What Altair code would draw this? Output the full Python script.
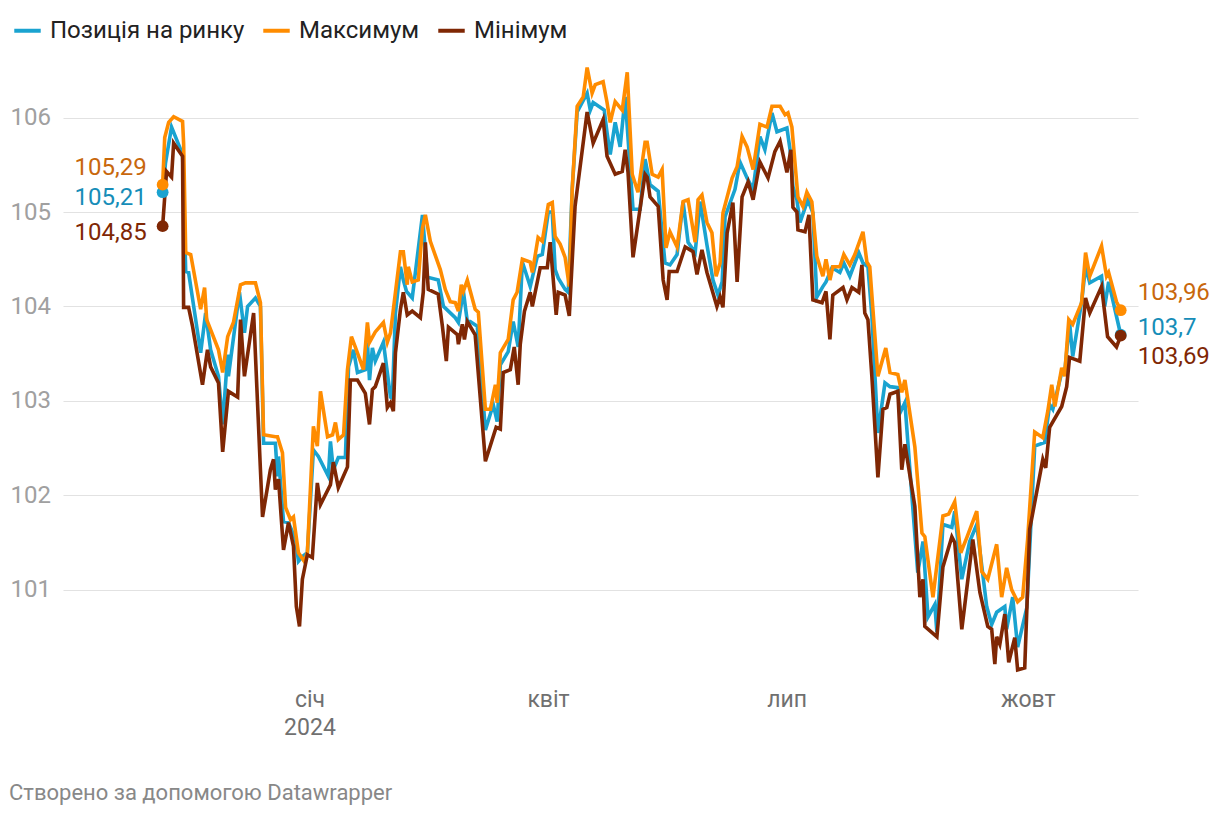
import altair as alt
import pandas as pd

SERIES = ["Позиція на ринку", "Максимум", "Мінімум"]
LINE_COLORS = ["#1aa3d0", "#ff8c00", "#7f2704"]
LABEL_COLORS = ["#168db8", "#c8670c", "#7f2704"]
Y_TICKS = [101, 102, 103, 104, 105, 106]

# day offsets from 2024-01-01 and values
pos_days = [-56, -54.9, -52.6, -48.4, -47.2, -46.1, -41.5, -39.6, -37.7, -34.7, -33.1, -31.2, -30.9, -26.7, -24.8,
            -23.6, -20.6, -18.7, -17.5, -13.0, -12.2, -11.8, -9.9, -8.0, -5.3, -4.2, -2.7, -0.8, 1.5, 3.4, 7.2, 8.0,
            9.1, 11.0, 13.7, 14.9, 16.8, 18.3, 21.3, 22.1, 22.9, 24.0, 25.1, 28.2, 30.9, 31.6, 32.8, 34.7, 35.8, 37.0,
            39.2, 43.1, 45.0, 49.1, 51.1, 53.0, 55.6, 56.8, 58.7, 60.2, 61.3, 64.0, 67.1, 70.1, 71.6, 72.8, 75.8, 77.7,
            79.6, 81.2, 84.2, 86.9, 88.8, 91.1, 92.6, 93.7, 94.9, 97.5, 98.7, 100.2, 102.1, 105.9, 107.1, 108.2, 112.4,
            113.5, 114.7, 116.6, 118.5, 120.4, 123.4, 126.1, 128.0, 129.9, 133.0, 135.6, 137.5, 140.2, 142.5, 144.4,
            147.1, 149.0, 151.6, 153.9, 155.8, 157.4, 158.5, 162.3, 164.2, 166.9, 169.2, 171.8, 173.7, 176.4, 178.3,
            182.1, 183.3, 184.4, 185.9, 187.1, 190.1, 192.0, 193.5, 195.8, 197.0, 199.3, 202.3, 203.8, 206.1, 209.5,
            211.1, 213.0, 214.5, 216.8, 219.5, 221.4, 224.4, 225.2, 227.1, 229.0, 232.0, 234.0, 235.9, 238.5, 239.3,
            241.6, 245.0, 246.1, 248.8, 251.8, 254.5, 258.3, 260.2, 262.1, 265.2, 265.9, 268.2, 270.1, 273.6, 276.6,
            280.4, 282.3, 283.5, 286.9, 288.0, 289.9, 291.1, 294.5, 296.0, 297.6, 302.1, 303.3, 304.8, 309.4]
pos_vals = [105.21, 105.52, 105.90, 105.61, 104.37, 104.36, 103.51, 103.93, 103.54, 103.26, 102.75, 103.49, 103.26,
            104.15, 103.72, 104.00, 104.09, 104.00, 102.55, 102.55, 102.20, 102.41, 101.72, 101.71, 101.53, 101.30,
            101.35, 101.39, 102.48, 102.41, 102.20, 102.57, 102.27, 102.40, 102.40, 103.36, 103.54, 103.30, 103.33,
            103.62, 103.22, 103.56, 103.42, 103.62, 103.04, 103.03, 103.93, 104.42, 104.28, 104.16, 104.09, 104.97,
            104.31, 104.28, 104.00, 103.95, 103.88, 103.83, 104.16, 103.84, 103.84, 103.79, 102.69, 102.96, 102.78,
            103.38, 103.52, 103.84, 103.57, 104.47, 104.21, 104.53, 104.55, 105.00, 105.00, 104.39, 104.30, 104.18,
            104.15, 105.24, 106.06, 106.26, 106.08, 106.16, 106.08, 105.84, 105.61, 105.95, 105.69, 106.22, 105.03,
            105.03, 105.56, 105.29, 105.22, 104.46, 104.44, 104.55, 105.11, 104.68, 104.57, 105.11, 104.65, 104.28,
            104.12, 104.26, 104.95, 105.24, 105.53, 105.36, 105.24, 105.80, 105.66, 106.05, 105.85, 105.89, 105.66,
            105.27, 105.13, 104.89, 105.13, 104.99, 104.10, 104.21, 104.26, 104.41, 104.36, 104.46, 104.32, 104.57,
            104.46, 104.42, 103.90, 102.66, 103.19, 103.15, 103.14, 102.87, 102.98, 102.27, 101.18, 101.51, 100.71,
            100.84, 100.55, 101.69, 101.66, 101.83, 101.11, 101.51, 101.69, 100.82, 100.63, 100.76, 100.82, 100.58,
            100.92, 100.39, 100.81, 102.52, 102.56, 102.96, 102.91, 103.30, 103.29, 103.83, 103.47, 104.05, 104.42,
            104.25, 104.32, 104.00, 104.26, 103.70]

max_days = [-56, -55.2, -53.7, -51.8, -48.4, -48.0, -47.2, -45.3, -41.5, -40.0, -39.2, -34.7, -33.1, -31.2, -29.0,
            -26.3, -24.4, -20.6, -18.7, -17.5, -13.0, -12.2, -10.3, -9.1, -7.2, -6.1, -4.2, -2.0, -0.8, 1.5, 3.0, 4.2,
            6.9, 8.8, 9.9, 11.0, 13.0, 14.5, 16.0, 17.5, 20.6, 22.1, 22.9, 25.1, 28.2, 29.7, 30.9, 32.8, 34.7, 35.8,
            37.3, 37.7, 39.2, 41.5, 43.1, 44.2, 46.1, 49.9, 51.8, 53.7, 55.6, 56.8, 57.9, 58.7, 60.2, 63.2, 64.4, 67.1,
            69.0, 70.9, 71.6, 72.8, 75.8, 77.7, 79.2, 81.2, 84.2, 85.0, 87.2, 88.8, 91.1, 92.6, 93.7, 94.9, 95.6, 97.5,
            99.1, 100.2, 102.1, 104.4, 105.9, 107.8, 109.0, 112.0, 113.5, 114.7, 116.6, 119.3, 121.2, 123.1, 125.3,
            128.0, 128.8, 130.7, 133.0, 134.5, 136.0, 137.5, 140.2, 142.5, 144.4, 147.1, 148.2, 149.7, 151.6, 153.5,
            155.1, 156.6, 157.7, 161.2, 163.1, 165.0, 166.9, 169.2, 171.8, 174.5, 176.4, 179.5, 181.4, 182.5, 184.0,
            186.3, 188.2, 189.7, 191.6, 193.5, 195.8, 197.0, 198.5, 199.6, 202.3, 203.8, 206.1, 208.0, 211.1, 212.6,
            213.7, 216.8, 219.8, 221.4, 224.4, 225.9, 227.1, 230.9, 233.6, 234.7, 237.8, 241.6, 243.8, 246.1, 248.4,
            250.7, 254.5, 256.4, 258.7, 262.1, 264.0, 265.9, 267.8, 270.1, 272.0, 273.9, 276.6, 279.7, 281.6, 283.1,
            284.3, 286.9, 288.0, 289.6, 291.1, 294.5, 296.0, 297.6, 302.1, 304.0, 304.8, 307.8, 309.4]
max_vals = [105.29, 105.79, 105.95, 106.01, 105.96, 105.73, 104.57, 104.55, 103.97, 104.20, 103.86, 103.54, 103.30,
            103.68, 103.83, 104.23, 104.25, 104.25, 104.04, 102.64, 102.62, 102.62, 102.45, 101.87, 101.74, 101.77,
            101.39, 101.30, 101.39, 102.73, 102.52, 103.10, 102.62, 102.64, 102.77, 102.59, 102.64, 103.33, 103.68,
            103.57, 103.33, 103.83, 103.62, 103.73, 103.83, 103.62, 103.72, 104.15, 104.58, 104.58, 104.23, 104.42,
            104.26, 104.28, 104.83, 104.97, 104.69, 104.39, 104.18, 104.05, 104.04, 103.95, 104.23, 104.16, 104.28,
            103.97, 103.94, 102.91, 102.91, 103.17, 102.98, 103.51, 103.65, 104.07, 104.15, 104.50, 104.47, 104.36,
            104.73, 104.69, 105.08, 105.10, 104.74, 104.69, 104.66, 104.52, 104.21, 105.24, 106.12, 106.22, 106.53,
            106.26, 106.35, 106.38, 106.16, 105.95, 106.17, 106.08, 106.48, 105.40, 105.21, 105.74, 105.74, 105.40,
            105.37, 105.45, 104.62, 104.79, 104.63, 105.11, 105.13, 104.68, 105.13, 105.18, 104.89, 104.78, 104.32,
            104.46, 104.99, 105.36, 105.48, 105.80, 105.69, 105.45, 105.93, 105.90, 106.12, 106.12, 106.03, 106.05,
            105.90, 105.16, 105.06, 105.21, 105.11, 104.53, 104.32, 104.50, 104.28, 104.42, 104.42, 104.55, 104.44,
            104.55, 104.79, 104.47, 104.42, 103.26, 103.56, 103.30, 103.28, 103.09, 103.22, 102.51, 101.60, 101.56,
            100.92, 101.78, 101.80, 101.93, 101.39, 101.55, 101.83, 101.19, 101.11, 101.48, 100.92, 101.23, 101.00,
            100.87, 100.92, 101.53, 102.67, 102.61, 102.89, 103.17, 102.94, 103.35, 103.26, 103.86, 103.81, 104.04,
            104.57, 104.32, 104.64, 104.32, 104.36, 104.05, 103.96]

min_days = [-56, -54.5, -52.6, -51.8, -48.4, -48.0, -46.1, -44.6, -40.8, -38.9, -37.7, -34.7, -33.1, -30.9, -27.4,
            -26.3, -24.8, -21.3, -18.7, -17.9, -14.9, -13.7, -13.0, -11.8, -9.9, -8.0, -6.1, -5.0, -3.8, -2.7, -0.8,
            1.1, 3.0, 4.2, 8.0, 9.1, 11.0, 14.5, 15.6, 18.3, 21.3, 22.9, 24.0, 25.1, 28.2, 29.7, 30.9, 32.0, 32.8, 34.7,
            35.8, 37.3, 39.2, 42.3, 43.4, 44.2, 45.3, 49.1, 50.7, 52.2, 53.0, 56.4, 56.8, 58.3, 59.1, 60.2, 63.2, 67.1,
            71.2, 72.8, 73.9, 76.6, 78.1, 79.6, 80.4, 82.0, 84.2, 85.0, 88.0, 90.7, 91.8, 94.1, 94.9, 97.5, 99.1, 101.3,
            105.9, 108.2, 112.0, 113.5, 116.6, 119.3, 120.4, 121.5, 123.4, 128.0, 128.8, 129.9, 133.0, 134.9, 136.4,
            137.2, 140.2, 143.3, 146.3, 147.8, 149.7, 151.6, 153.5, 155.4, 156.6, 157.7, 159.3, 161.5, 163.1, 165.0,
            167.3, 169.2, 171.8, 174.9, 177.5, 179.5, 182.1, 183.6, 184.4, 185.9, 186.3, 189.0, 190.5, 192.0, 195.5,
            197.0, 198.5, 199.6, 203.5, 205.0, 206.9, 209.5, 210.7, 211.8, 213.0, 214.5, 216.8, 218.7, 220.2, 221.4,
            224.4, 225.9, 227.1, 230.9, 232.8, 234.0, 234.7, 239.3, 241.6, 245.0, 246.1, 248.8, 253.0, 255.7, 258.7,
            260.2, 261.4, 262.1, 263.3, 265.2, 266.7, 269.0, 270.1, 272.8, 274.7, 279.7, 280.8, 282.3, 286.9, 288.8,
            289.9, 293.8, 296.0, 297.6, 302.1, 304.4, 307.8, 309.4]
min_vals = [104.85, 105.43, 105.37, 105.73, 105.59, 103.99, 103.99, 103.79, 103.17, 103.54, 103.36, 103.19, 102.46,
            103.10, 103.04, 103.86, 103.26, 103.93, 102.27, 101.77, 102.27, 102.38, 102.06, 102.17, 101.42, 101.71,
            101.46, 100.82, 100.61, 101.11, 101.37, 101.34, 102.13, 101.90, 102.11, 102.35, 102.08, 102.30, 103.22,
            103.22, 103.08, 102.75, 103.12, 103.15, 103.40, 102.93, 102.98, 102.89, 103.51, 103.97, 104.15, 103.91,
            103.95, 103.88, 104.15, 104.68, 104.18, 104.13, 103.79, 103.42, 103.78, 103.70, 103.60, 103.81, 103.65,
            103.84, 103.70, 102.36, 102.72, 102.70, 103.30, 103.33, 103.57, 103.17, 103.60, 103.95, 104.15, 104.00,
            104.41, 104.41, 104.68, 103.91, 104.15, 104.12, 103.90, 105.06, 106.06, 105.73, 105.98, 105.59, 105.40,
            105.43, 105.66, 105.42, 104.52, 105.40, 105.37, 105.16, 105.06, 104.28, 104.07, 104.37, 104.37, 104.63,
            104.58, 104.34, 104.60, 104.36, 104.18, 104.00, 104.10, 103.99, 104.78, 105.10, 104.26, 105.16, 105.32,
            105.13, 105.53, 105.36, 105.64, 105.75, 105.42, 105.66, 105.05, 105.00, 104.81, 104.79, 104.97, 104.07,
            104.04, 104.16, 103.65, 104.12, 104.20, 104.07, 104.20, 104.15, 104.44, 103.93, 103.86, 103.26, 102.19,
            102.91, 102.93, 103.07, 103.10, 102.27, 102.54, 101.88, 100.92, 101.11, 100.61, 100.50, 101.24, 101.56,
            101.50, 100.58, 101.53, 100.97, 100.61, 100.58, 100.21, 100.50, 100.42, 100.74, 100.23, 100.49, 100.15,
            100.17, 101.64, 102.38, 102.29, 102.72, 102.94, 103.15, 103.46, 103.42, 104.09, 103.93, 104.21, 103.68,
            103.57, 103.69]

BASE = pd.Timestamp("2024-01-01", tz="UTC")


def frame(name, days, vals):
    return pd.DataFrame({
        "series": name,
        "date": BASE + pd.to_timedelta(days, unit="D"),
        "value": vals,
        "idx": list(range(len(days))),
    })


frames = [frame(SERIES[0], pos_days, pos_vals),
          frame(SERIES[1], max_days, max_vals),
          frame(SERIES[2], min_days, min_vals)]
df = pd.concat(frames, ignore_index=True)

FONT = "Roboto"
FS = 24

x_enc = alt.X(
    "date:T",
    scale=alt.Scale(type="utc", domain=[alt.DateTime(year=2023, month=9, date=29, utc=True),
                                        alt.DateTime(year=2024, month=11, date=12, utc=True)]),
    axis=alt.Axis(
        values=[alt.DateTime(year=2024, month=1, date=1, utc=True),
                alt.DateTime(year=2024, month=4, date=1, utc=True),
                alt.DateTime(year=2024, month=7, date=1, utc=True),
                alt.DateTime(year=2024, month=10, date=1, utc=True)],
        labelExpr="utcmonth(datum.value) == 0 ? ['січ', '2024'] : utcmonth(datum.value) == 3 ? 'квіт' : utcmonth(datum.value) == 6 ? 'лип' : 'жовт'",
        grid=False, ticks=False, domain=False, title=None,
        labelFontSize=FS - 1, labelColor="#707070", labelFont=FONT, labelPadding=4,
        labelLineHeight=28, labelOverlap=False, labelFlush=False,
    ),
)
y_enc = alt.Y(
    "value:Q",
    scale=alt.Scale(domain=[100.0, 106.6], nice=False, zero=False),
    axis=alt.Axis(
        values=Y_TICKS, format="d", grid=True, gridColor="#e2e2e2", gridWidth=1.2,
        ticks=False, domain=False, title=None, labelAlign="left", labelPadding=53,
        labelFontSize=FS, labelColor="#a0a0a0", labelFont=FONT, labelBaseline="middle",
    ),
)
color_enc = alt.Color(
    "series:N",
    scale=alt.Scale(domain=SERIES, range=LINE_COLORS),
    legend=alt.Legend(
        title=None, orient="none", direction="horizontal", legendX=-51, legendY=-46,
        symbolType="stroke", symbolStrokeWidth=4, symbolSize=700, labelFontSize=FS,
        labelFont=FONT, labelColor="#222222", columnPadding=10, labelOffset=7,
        labelLimit=400, symbolOffset=0,
    ),
)

base = alt.Chart(df)
layers = []
for name in SERIES:
    layers.append(
        base.transform_filter(alt.datum.series == name)
        .mark_line(strokeWidth=3.6, strokeJoin="miter", clip=False)
        .encode(x=x_enc, y=y_enc, color=color_enc, order="idx:Q")
    )

first = df.groupby("series", sort=False).head(1).copy()
last = df.groupby("series", sort=False).tail(1).copy()

for pts in (first, last):
    layers.append(
        alt.Chart(pts).mark_circle(size=140, opacity=1).encode(
            x="date:T", y="value:Q",
            color=alt.Color("series:N", scale=alt.Scale(domain=SERIES, range=LINE_COLORS), legend=None),
        )
    )


def fmt(v):
    s = f"{v:.2f}".rstrip("0").rstrip(".")
    return s.replace(".", ",")


left_dy = [6, -17, 7]
right_dy = [-7, -17, 21]
for i, name in enumerate(SERIES):
    f = first[first.series == name].copy()
    f["text"] = fmt(f["value"].iloc[0])
    layers.append(
        alt.Chart(f).mark_text(align="right", baseline="middle", dx=-16, dy=left_dy[i], fontSize=FS,
                               font=FONT, color=LABEL_COLORS[i]).encode(x="date:T", y="value:Q", text="text:N")
    )
    l = last[last.series == name].copy()
    l["text"] = fmt(l["value"].iloc[0])
    layers.append(
        alt.Chart(l).mark_text(align="left", baseline="middle", dx=17, dy=right_dy[i], fontSize=FS,
                               font=FONT, color=LABEL_COLORS[i]).encode(x="date:T", y="value:Q", text="text:N")
    )

chart = alt.layer(*layers).properties(
    width=1075, height=623,
    autosize=alt.AutoSizeParams(type="none"),
    padding={"left": 55, "top": 53, "right": 74, "bottom": 130},
    title=alt.TitleParams(
        "Створено за допомогою Datawrapper", orient="bottom", anchor="start", fontSize=22,
        font=FONT, color="#888888", fontWeight="normal", dx=-1, offset=44,
    ),
).configure(font=FONT).configure_view(strokeWidth=0, stroke="transparent")

chart.save("out.html", embed_options={"renderer": "svg", "actions": False})
